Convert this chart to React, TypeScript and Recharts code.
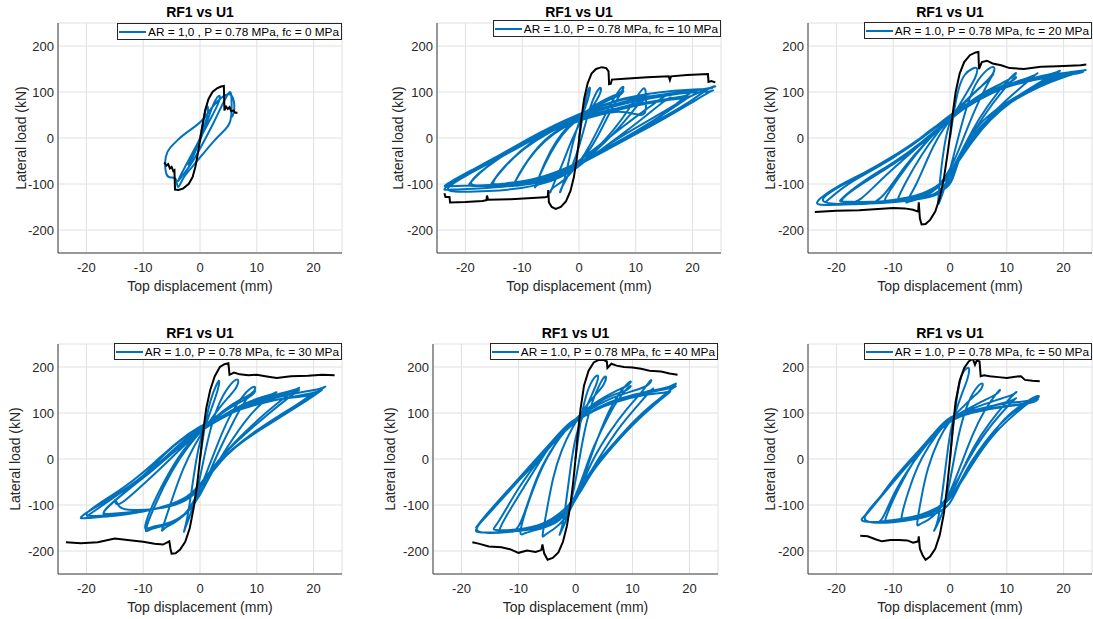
import { CartesianGrid, Legend, Line, LineChart, XAxis, YAxis } from 'recharts';

type Pt = [number, number];

const xTicks = [-20, -10, 0, 10, 20];
const yTicks = [-200, -100, 0, 100, 200];
const titleText = 'RF1 vs U1';
const xLabel = 'Top displacement (mm)';
const yLabel = 'Lateral load (kN)';

const legendLabels = [
  'AR = 1,0 , P = 0.78 MPa, fc = 0 MPa',
  'AR = 1.0, P = 0.78 MPa, fc = 10 MPa',
  'AR = 1.0, P = 0.78 MPa, fc = 20 MPa',
  'AR = 1.0, P = 0.78 MPa, fc = 30 MPa',
  'AR = 1.0, P = 0.78 MPa, fc = 40 MPa',
  'AR = 1.0, P = 0.78 MPa, fc = 50 MPa',
];

// RF1 envelopes (black) and U1 hysteresis loops (blue)
const blackFc0: Pt[] = [
  [-6.3, -53], [-5.9, -60], [-5.6, -57], [-5.3, -66], [-5, -63], [-4.7, -72], [-4.5, -70], [-4.4, -112],
  [-3.8, -113], [-3, -110], [-2, -100], [-1.3, -85], [-0.8, -62], [-0.4, -35], [0, -5], [0.4, 25], [0.9, 60],
  [1.5, 85], [2.2, 100], [3, 108], [3.7, 112], [4.2, 113], [4.3, 60], [4.6, 68], [4.9, 63], [5.2, 67],
  [5.5, 58], [5.9, 60], [6.2, 55], [6.6, 55],
];
const blueFc0: Pt[] = [
  [0, 0], [0.6, 35], [1, 68], [1.5, 72], [1.3, 45], [0.5, 15], [-0.5, -15], [-1.5, -45], [-2.2, -62], [-1.8, -55],
  [-0.8, -30], [0.5, 10], [1.5, 45], [2.5, 80], [3.6, 98], [3.5, 80], [2, 45], [0.5, 10], [-1, -25], [-2.5, -60],
  [-3.6, -85], [-4, -97], [-3.5, -88], [-2, -65], [-0.5, -35], [1, 0], [2.5, 35], [4, 75], [5, 98], [5.5, 104],
  [5.6, 70], [5.5, 32], [4.2, 15], [2.5, -5], [0.5, -35], [-1.5, -65], [-3, -85], [-4, -117], [-4.1, -85],
  [-5, -86], [-6.1, -86], [-6.2, -35], [-5.2, -20], [-4, -5], [-3, 6], [-2, 15], [-1, 24], [0.5, 38], [1.8, 62],
  [3, 80], [4.5, 95], [5.8, 98], [6.2, 58], [5.6, 45],
];

const blackFc10: Pt[] = [
  [-23.7, -120], [-23.5, -128], [-22.8, -128], [-22.7, -140], [-20, -139], [-17, -137], [-16.3, -135],
  [-16.2, -125], [-16, -134], [-12, -133], [-9, -131], [-6, -129], [-5.5, -127], [-5.4, -113], [-5.3, -140],
  [-4.8, -150], [-4.1, -154], [-3.2, -150], [-2.3, -138], [-1.5, -115], [-0.9, -85], [-0.4, -45], [0, -5],
  [0.4, 40], [0.9, 85], [1.5, 118], [2.2, 140], [3, 150], [4, 154], [4.8, 152], [5.2, 145], [5.3, 117],
  [5.6, 118], [5.8, 127], [8, 129], [12, 132], [15.8, 134], [16, 126], [16.2, 134], [19, 137], [22.7, 139],
  [22.8, 122], [23.3, 124], [24, 121],
];
const blueFc10: Pt[] = [
  [0, 0], [0.6, 45], [1.2, 90], [2, 118], [1.9, 95], [1, 62], [0, 35], [-1, -5], [-1.8, -50], [-2.6, -95],
  [-3.5, -125], [-3.2, -110], [-2.2, -90], [-1, -55], [0, -20], [1, 25], [2, 70], [3, 100], [4, 115],
  [3.8, 95], [2.5, 70], [1, 45], [0, 30], [-1.5, -10], [-3, -60], [-4.5, -100], [-5.2, -125],
  [-5, -110], [-3.5, -100], [-2, -85], [0, -55], [2, -15], [4, 35], [6, 85], [8, 120], [7.8, 100], [6, 92],
  [4, 80], [2, 65], [0, 45], [-2, 25], [-4, -5], [-6, -50], [-8, -117],
  [-7.6, -100], [-6, -98], [-4, -90], [-2, -75], [0, -55], [2, -25], [4, 20], [6, 70], [8, 110], [7.8, 95],
  [5, 82], [2, 62], [0, 42], [-2, 22], [-4, -10], [-6, -55], [-8, -112],
  [-7.5, -98], [-5, -93], [-2, -78], [0, -58], [3, -25], [6, 15], [9, 65], [11.7, 122], [11.8, 90], [11.9, 46],
  [10, 52], [7, 60], [4, 52], [0, 38], [-3, 22], [-6, -5], [-9, -45], [-12, -112],
  [-11.5, -100], [-9, -100], [-6, -95], [-3, -82], [0, -58], [3, -28], [6, 8], [9, 50], [12, 98], [11.8, 80],
  [9, 72], [5, 58], [0, 40], [-4, 18], [-8, -25], [-12, -108],
  [-11, -103], [-8, -100], [-4, -88], [0, -58], [4, -25], [8, 12], [12, 50], [16.4, 95], [16.4, 82], [14, 80],
  [10, 70], [5, 56], [0, 42], [-5, 16], [-10, -25], [-13, -60], [-16.2, -110],
  [-15, -104], [-10, -101], [-5, -90], [0, -58], [5, -22], [10, 12], [15, 50], [20, 105], [19.5, 92], [16, 86],
  [10, 74], [5, 60], [0, 44], [-5, 20], [-10, -12], [-15, -48], [-20, -105],
  [-19, -104], [-14, -104], [-8, -96], [-3, -75], [0, -57], [5, -20], [10, 14], [15, 52], [20, 95], [19.5, 88],
  [15, 82], [10, 72], [5, 58], [0, 44], [-5, 20], [-10, -14], [-15, -50], [-20, -100],
  [-18, -105], [-12, -104], [-6, -92], [-2, -70], [0, -56], [5, -22], [10, 12], [15, 46], [20, 82], [23.5, 115],
  [24.5, 112], [22, 106], [18, 100], [12, 90], [6, 74], [2, 56], [0, 46], [-5, 22], [-10, -12], [-15, -46],
  [-20, -78], [-24.5, -115],
  [-23, -112], [-18, -110], [-12, -106], [-6, -92], [-2, -70], [0, -58], [5, -25], [10, 8], [15, 42], [20, 78],
  [24, 108], [23.5, 100], [20, 100], [15, 92], [8, 76], [2, 55], [0, 45], [-5, 18], [-10, -16], [-15, -50],
  [-20, -82], [-24, -112],
  [-22, -118], [-16, -116], [-10, -110], [-5, -96], [-1, -72], [1, -50], [5, -15], [10, 22], [15, 58], [19, 88],
  [22, 104], [24, 112], [23, 106], [20, 106], [14, 100], [8, 88], [3, 66], [0, 52], [-4, 30], [-9, -2],
  [-14, -38], [-19, -70], [-24.5, -108],
  [-23, -104], [-18, -104], [-12, -100], [-6, -88], [-2, -66], [0, -50], [4, -12], [8, 28], [12, 64], [16, 100],
  [15.5, 90], [12, 92], [8, 86], [4, 70], [0, 50], [-4, 28], [-8, -5], [-12, -45], [-16, -104], [-14, -100],
  [-8, -92], [-3, -70], [0, -52],
];

const blackFc20: Pt[] = [
  [-23.8, -161], [-20, -158], [-16, -157], [-12, -154], [-10, -152], [-8, -153], [-6.5, -156], [-5.6, -160],
  [-5.5, -140], [-5.3, -175], [-5, -188], [-4.3, -187], [-3.5, -178], [-2.6, -160], [-1.8, -130], [-1.1, -90],
  [-0.5, -40], [0, 5], [0.5, 55], [1, 100], [1.7, 140], [2.5, 165], [3.5, 180], [4.5, 186], [5, 187],
  [5.1, 150], [5.6, 165], [6.5, 168], [7.5, 162], [9, 158], [10.5, 152], [13, 150], [16, 155], [19, 156],
  [21, 157], [23, 158], [24, 160],
];
const blueFc20: Pt[] = [
  [0, 0], [0.7, 60], [1.5, 110], [2.5, 140], [4, 152], [5, 155], [4.6, 132], [3, 100], [1.2, 62], [0, 38],
  [-0.8, 0], [-1.5, -60], [-1.9, -110], [-2.2, -150],
  [-1.8, -138], [-1, -110], [0, -70], [1, -20], [2.5, 50], [4, 110], [6, 145], [8, 160], [7.8, 140], [6, 118],
  [4, 95], [2, 68], [0, 40], [-2, 5], [-4, -45], [-6, -105], [-8, -145],
  [-7.5, -138], [-5, -132], [-3, -118], [-1, -90], [1, -45], [3, 20], [5, 80], [8, 150], [7.5, 132], [5, 108],
  [2, 72], [0, 44], [-2, 15], [-5, -35], [-8, -100], [-9.5, -140],
  [-9, -136], [-6, -132], [-3, -118], [-1, -95], [1, -55], [3, -5], [5, 40], [8, 95], [12, 150], [11.5, 134],
  [9, 118], [6, 100], [3, 75], [0, 42], [-3, 8], [-6, -35], [-9, -85], [-12, -140],
  [-11, -136], [-8, -133], [-4, -120], [-1, -95], [1, -60], [3, -10], [6, 50], [9, 100], [12, 140], [11.5, 125],
  [8, 108], [4, 82], [0, 42], [-4, -5], [-8, -60], [-12, -135],
  [-14, -140], [-10, -136], [-6, -128], [-3, -115], [0, -80], [2, -40], [5, 15], [8, 62], [12, 105], [16, 148],
  [15, 135], [12, 124], [8, 106], [4, 78], [0, 42], [-4, 0], [-8, -45], [-12, -88], [-16, -140],
  [-18, -142], [-13, -140], [-8, -132], [-4, -118], [-1, -95], [1, -55], [4, 0], [7, 45], [11, 85], [15, 115],
  [20, 152], [19, 142], [15, 132], [10, 113], [5, 84], [0, 44], [-5, -10], [-10, -55], [-15, -90], [-20, -140],
  [-19, -138], [-14, -140], [-8, -134], [-4, -120], [-1, -98], [1, -60], [4, -5], [7, 40], [11, 82], [15, 112],
  [20, 145], [19, 138], [14, 126], [9, 108], [4, 80], [0, 40], [-5, -14], [-10, -58], [-15, -95], [-20, -138],
  [-18, -142], [-12, -140], [-7, -135], [-3, -125], [-1, -112], [0.3, -100], [1.5, -48], [3, -5], [5.6, 39],
  [10.3, 82], [16.2, 118], [20, 135], [24.5, 150], [23.5, 146], [20, 142], [15, 130], [10, 114], [5, 86],
  [0, 45], [-3, 22], [-6, -8], [-10, -40], [-15, -76], [-20, -105], [-24.5, -145],
  [-22, -146], [-17, -144], [-12, -142], [-7, -136], [-3, -128], [-1, -115], [0.5, -80], [2, -30], [5, 25],
  [10, 75], [16, 114], [20, 133], [24, 147], [23, 140], [18, 134], [12, 120], [6, 94], [1, 55], [-2, 28],
  [-7, -20], [-12, -58], [-18, -95], [-24, -138],
  [-20, -145], [-14, -142], [-8, -138], [-4, -130], [-1.5, -115], [0.5, -75], [2.5, -20], [6, 35], [11, 85],
  [16, 118], [22, 148], [21, 140], [16, 132], [11, 118], [6, 96], [2, 66], [0, 50], [-3, 20], [-8, -28],
  [-13, -66], [-18, -98], [-22, -140],
];

const blackFc30: Pt[] = [
  [-23.6, -181], [-21, -183], [-18, -181], [-15, -173], [-12, -177], [-10, -180], [-8, -184], [-6.5, -186],
  [-5.4, -179], [-5.2, -195], [-5, -206], [-4.3, -205], [-3.5, -197], [-2.6, -180], [-1.8, -150], [-1.1, -105],
  [-0.5, -55], [0, 0], [0.5, 55], [1.1, 110], [1.8, 150], [2.6, 180], [3.5, 200], [4.3, 206], [5, 208],
  [5.2, 183], [6, 188], [7, 184], [8.5, 182], [10, 183], [11.5, 180], [13.5, 176], [16, 180], [19, 181],
  [21.5, 183], [23.7, 182],
];
const blueFc30: Pt[] = [
  [0, 0], [0.8, 70], [1.8, 130], [3, 165], [3.5, 175], [3.2, 150], [2, 110], [0.8, 65], [0, 40], [-0.8, -10],
  [-1.6, -80], [-2.3, -135], [-3, -165],
  [-2.6, -150], [-1.5, -115], [-0.5, -70], [0.5, -10], [1.5, 50], [3, 115], [5, 160], [7, 180], [6.6, 155],
  [5, 135], [3, 105], [1, 70], [-1, 30], [-3, -20], [-5, -90], [-7, -165],
  [-6.5, -150], [-4.5, -140], [-2.5, -120], [-0.5, -80], [1, -35], [3, 30], [5, 90], [7.5, 140], [10, 165],
  [9.6, 142], [7, 130], [4, 105], [1, 72], [-2, 30], [-5, -25], [-8, -100], [-10, -165],
  [-9, -152], [-6, -145], [-3, -128], [-1, -100], [1, -50], [3, 10], [6, 85], [8, 130], [10, 155], [9.5, 138],
  [6, 118], [3, 92], [0, 62], [-3, 20], [-6, -40], [-9, -115], [-10, -158],
  [-9, -148], [-5, -140], [-2, -115], [0, -80], [2, -30], [5, 30], [8, 85], [11, 125], [14, 150], [13, 141],
  [10, 132], [6, 110], [2, 78], [-2, 40], [-6, -10], [-10, -55], [-15, -113], [-15, -78], [-14.5, -108],
  [-12, -112], [-8, -110], [-4, -100], [-1, -80], [1, -45], [4, 10], [8, 60], [12, 105], [15, 135], [18, 160],
  [17, 150], [13, 140], [8, 118], [3, 88], [0, 62], [-4, 25], [-8, -20], [-12, -60], [-18, -120],
  [-16, -120], [-11, -115], [-6, -105], [-2, -85], [1, -40], [4, 10], [8, 55], [12, 98], [15, 128], [18, 155],
  [17, 145], [13, 136], [8, 115], [3, 84], [0, 60], [-4, 22], [-8, -22], [-13, -70], [-18, -122],
  [-16, -124], [-12, -118], [-7, -108], [-3, -90], [0, -60], [3, -12], [6, 25], [10, 60], [15, 96], [20, 140],
  [22.6, 162], [21.5, 152], [17, 144], [12, 130], [6, 108], [2, 80], [0, 70], [-3, 45], [-6, 15], [-10, -40],
  [-15, -80], [-22.2, -132],
  [-20, -128], [-15, -124], [-10, -115], [-5, -100], [-1, -75], [1, -45], [4, 5], [8, 45], [14, 90], [19, 128],
  [22, 155], [21, 145], [16, 135], [10, 120], [4, 95], [0, 72], [-4, 38], [-8, -8], [-13, -60], [-18, -98],
  [-21, -125],
  [-18, -124], [-13, -120], [-8, -110], [-3, -92], [0, -64], [2, -30], [5, 15], [9, 55], [14, 95], [18, 125],
  [20, 145], [19.5, 138], [15, 132], [10, 122], [5, 100], [1, 74], [-2, 50], [-6, 5], [-10, -40], [-15, -82],
  [-20, -125],
];

const blackFc40: Pt[] = [
  [-18.1, -181], [-17, -184], [-15.2, -190], [-13, -192], [-11.5, -196], [-10, -204], [-8.5, -199], [-7, -202],
  [-6, -198], [-5.8, -186], [-5.5, -205], [-4.9, -219], [-4, -215], [-3, -203], [-2.2, -180], [-1.5, -145],
  [-0.9, -100], [-0.4, -50], [0, 0], [0.4, 55], [0.9, 110], [1.5, 160], [2.3, 192], [3.2, 210], [4, 215],
  [5, 215], [5.5, 212], [5.6, 198], [6.3, 207], [7.2, 203], [8.5, 200], [10, 199], [11.5, 196], [13, 192],
  [15, 190], [16.5, 186], [17.9, 183],
];
const blueFc40: Pt[] = [
  [0, 0], [0.8, 80], [1.8, 140], [3, 175], [4.2, 187], [3.8, 165], [2.5, 130], [1, 85], [0, 50], [-0.8, -10],
  [-1.6, -90], [-2.3, -150], [-3, -170],
  [-2.5, -158], [-1.5, -130], [-0.5, -80], [0.5, -15], [1.5, 60], [3, 130], [4.5, 170], [5.5, 186], [5.2, 162],
  [3.5, 140], [1.5, 110], [-0.5, 70], [-2.5, 20], [-4, -40], [-5, -110], [-6, -176],
  [-5.5, -165], [-4, -155], [-2, -135], [0, -90], [2, -20], [4, 50], [6, 110], [8, 150], [10, 175], [9.5, 160],
  [7, 148], [4, 128], [1, 100], [-2, 62], [-5, 5], [-7, -50], [-9, -120], [-10, -170],
  [-9, -160], [-6, -152], [-3, -138], [-1, -110], [1, -50], [3, 25], [6, 100], [8, 140], [10, 165], [9.5, 150],
  [6, 138], [3, 115], [0, 88], [-3, 45], [-6, -15], [-8, -80], [-10, -160],
  [-12, -158], [-8, -155], [-4, -142], [-1, -112], [1, -60], [3, 0], [6, 60], [9, 110], [12, 150], [13.6, 180],
  [13, 158], [10, 148], [6, 132], [2, 105], [-2, 68], [-5, 20], [-8, -40], [-11, -100], [-14, -163],
  [-12.5, -155], [-9, -152], [-5, -145], [-2, -125], [0, -92], [2, -40], [5, 20], [8, 75], [11, 118], [14, 160],
  [13.5, 148], [10, 140], [6, 125], [2, 100], [-2, 62], [-6, 5], [-10, -60], [-14, -150],
  [-15, -155], [-10, -155], [-5, -140], [-2, -118], [0, -92], [2, -35], [5, 10], [7, 38], [10, 80], [13.6, 122],
  [16.6, 147], [18, 169], [17, 158], [14, 150], [10, 138], [5, 116], [1, 90], [-1, 75], [-3, 50], [-5, 18],
  [-10, -48], [-15, -112], [-18, -158],
  [-17, -160], [-13, -160], [-8, -152], [-4, -132], [-1, -100], [1, -62], [3, -20], [6, 25], [10, 78],
  [14, 125], [18, 163], [17.5, 155], [13, 146], [8, 130], [3, 105], [0, 85], [-4, 35], [-8, -20], [-12, -75],
  [-16, -130], [-18, -155],
  [-16, -162], [-12, -160], [-7, -150], [-3, -128], [-1, -105], [1, -70], [3, -25], [6, 20], [10, 75], [14, 120],
  [17, 150], [16.5, 145], [12, 140], [7, 125], [2, 100], [-1, 82], [-4, 40], [-8, -15], [-12, -70], [-16, -125],
  [-17.5, -150],
];

const blackFc50: Pt[] = [
  [-15.8, -167], [-14.5, -168], [-13, -175], [-12, -179], [-10.5, -176], [-9, -176], [-7.5, -177],
  [-6.5, -182], [-5.6, -179], [-5.5, -168], [-5.3, -195], [-4.8, -210], [-4.3, -219], [-3.5, -212],
  [-2.6, -195], [-1.8, -165], [-1.1, -120], [-0.5, -60], [0, 0], [0.5, 70], [1, 125], [1.7, 170], [2.5, 198],
  [3.3, 212], [4, 218], [4.4, 205], [4.7, 214], [5.2, 212], [5.4, 180], [6, 182], [7, 180], [8.5, 178],
  [10, 176], [11.5, 179], [12.5, 180], [13.2, 172], [14.5, 170], [15.8, 169],
];
const blueFc50: Pt[] = [
  [0, 0], [0.7, 90], [1.5, 160], [2.2, 190], [3, 198], [3.5, 200], [3.2, 175], [2, 140], [0.8, 95], [0, 60],
  [-0.8, -20], [-1.6, -100], [-2.3, -145], [-3, -160],
  [-2.5, -150], [-1.5, -125], [-0.5, -80], [0.5, -15], [1.5, 55], [3, 120], [4.5, 155], [6, 170], [5.6, 150],
  [4, 135], [2, 110], [0, 85], [-2, 45], [-4, -20], [-5, -80], [-6, -150],
  [-5.5, -142], [-4, -135], [-2, -115], [0, -75], [2, -10], [4, 55], [6, 105], [8, 140], [9, 155], [8.6, 142],
  [6, 128], [3, 108], [0, 88], [-2, 60], [-5, 5], [-7, -55], [-9, -140],
  [-8, -132], [-5, -128], [-2, -112], [0, -85], [2, -30], [4, 25], [7, 80], [10, 125], [12, 151], [11.5, 140],
  [8, 128], [4, 110], [0, 90], [-3, 55], [-6, 5], [-9, -60], [-12, -145],
  [-11, -136], [-7, -130], [-3, -115], [-1, -95], [1, -55], [3, -5], [6, 55], [9, 100], [12, 138], [11.5, 128],
  [8, 118], [4, 102], [0, 85], [-3, 50], [-7, -15], [-10, -75], [-12, -138],
  [-13, -136], [-9, -132], [-5, -122], [-2, -105], [0, -90], [2, -45], [4, 2], [6.6, 38], [9.5, 90], [13, 122],
  [16, 143], [15.5, 128], [12, 124], [8, 118], [4, 105], [0, 96], [-2.8, 57], [-5, 24], [-10, -41],
  [-14, -114], [-16, -132],
  [-15, -138], [-11, -136], [-6, -128], [-2, -110], [0, -88], [2, -50], [5, 10], [8, 60], [12, 105],
  [15.8, 140], [15.5, 122], [11, 118], [6, 108], [2, 98], [-1, 80], [-4, 35], [-8, -20], [-12, -80],
  [-15.9, -130],
  [-14, -140], [-10, -138], [-6, -132], [-2, -118], [0, -100], [1.5, -60], [3.5, -10], [6, 35], [9, 80],
  [12, 110], [15, 132], [14.5, 120], [10, 115], [5, 104], [1, 92], [-2, 65], [-5, 20], [-9, -35], [-13, -95],
  [-15, -125],
];

const FONT = '"Liberation Sans", Arial, Helvetica, sans-serif';
const AXIS = '#262626';
const BLUE = '#0072BD';
const ML = 58;
const MT = 23;
const MR = 1;
const XH = 50;

const panels = [
  { left: 58, top: 23, w: 284, h: 230, yLab: 37, legTop: 0, blue: blueFc0, black: blackFc0, label: legendLabels[0] },
  { left: 437, top: 23, w: 284, h: 230, yLab: 39, legTop: -3, blue: blueFc10, black: blackFc10, label: legendLabels[1] },
  { left: 808, top: 23, w: 284, h: 230, yLab: 38, legTop: -1, blue: blueFc20, black: blackFc20, label: legendLabels[2] },
  { left: 58, top: 344, w: 284, h: 230, yLab: 43, legTop: -1, blue: blueFc30, black: blackFc30, label: legendLabels[3] },
  { left: 433, top: 344, w: 285, h: 230, yLab: 43, legTop: -1, blue: blueFc40, black: blackFc40, label: legendLabels[4] },
  { left: 808, top: 344, w: 284, h: 230, yLab: 38, legTop: -1, blue: blueFc50, black: blackFc50, label: legendLabels[5] },
];

function LegendBox({ label }: { label: string }) {
  return (
    <div
      style={{
        border: `1px solid ${AXIS}`,
        background: '#fff',
        display: 'flex',
        alignItems: 'center',
        height: 15,
        padding: '0 2px 0 1px',
        font: `11.8px ${FONT}`,
        color: '#000',
        whiteSpace: 'nowrap',
      }}
    >
      <svg width={27} height={4} style={{ marginRight: 2 }}>
        <line x1={0} y1={2} x2={27} y2={2} stroke={BLUE} strokeWidth={2} />
      </svg>
      {label}
    </div>
  );
}

type PanelCfg = (typeof panels)[number];

function Panel({ p }: { p: PanelCfg }) {
  const blue = p.blue.map(([x, y]) => ({ x, y }));
  const black = p.black.map(([x, y]) => ({ x, y }));
  return (
    <div style={{ position: 'absolute', left: p.left - ML, top: p.top - MT }}>
      <div
        style={{
          position: 'absolute',
          left: ML,
          width: p.w,
          top: 4,
          textAlign: 'center',
          font: `bold 14px ${FONT}`,
          color: '#000',
          lineHeight: '16px',
        }}
      >
        {titleText}
      </div>
      <LineChart width={ML + p.w + MR} height={MT + p.h + XH} margin={{ top: MT, right: MR, left: 0, bottom: 0 }}>
        <CartesianGrid stroke="#e0e0e0" />
        <XAxis
          type="number"
          dataKey="x"
          domain={[-25, 25]}
          ticks={xTicks}
          allowDataOverflow
          height={XH}
          tickLine={false}
          tickSize={8}
          axisLine={{ stroke: '#404040' }}
          tick={{ fill: AXIS, fontSize: 13, fontFamily: FONT }}
          label={{ value: xLabel, position: 'insideBottom', offset: 12, fill: AXIS, fontSize: 14, fontFamily: FONT }}
        />
        <YAxis
          type="number"
          domain={[-250, 250]}
          ticks={yTicks}
          allowDataOverflow
          width={ML}
          tickLine={false}
          tickSize={2}
          axisLine={{ stroke: '#404040' }}
          tick={{ fill: AXIS, fontSize: 13, fontFamily: FONT }}
          label={{
            value: yLabel,
            angle: -90,
            position: 'insideLeft',
            offset: ML - p.yLab,
            fill: AXIS,
            fontSize: 14,
            fontFamily: FONT,
            style: { textAnchor: 'middle' },
          }}
        />
        <Legend
          layout="horizontal"
          align="center"
          verticalAlign="middle"
          wrapperStyle={{ top: MT + p.legTop, right: MR, left: 'auto', width: 'auto' }}
          content={() => <LegendBox label={p.label} />}
        />
        <Line
          data={blue}
          dataKey="y"
          name={p.label}
          type="basis"
          stroke={BLUE}
          strokeWidth={2}
          dot={false}
          activeDot={false}
          isAnimationActive={false}
        />
        <Line
          data={black}
          dataKey="y"
          name="RF1"
          legendType="none"
          type="linear"
          stroke="#000"
          strokeWidth={2}
          dot={false}
          activeDot={false}
          isAnimationActive={false}
        />
      </LineChart>
    </div>
  );
}

export default function App() {
  return (
    <div
      style={{
        position: 'fixed',
        left: 0,
        top: 0,
        width: 1093,
        height: 619,
        background: '#fff',
        fontFamily: FONT,
        overflow: 'hidden',
      }}
    >
      {panels.map((p, i) => (
        <Panel key={i} p={p} />
      ))}
    </div>
  );
}
